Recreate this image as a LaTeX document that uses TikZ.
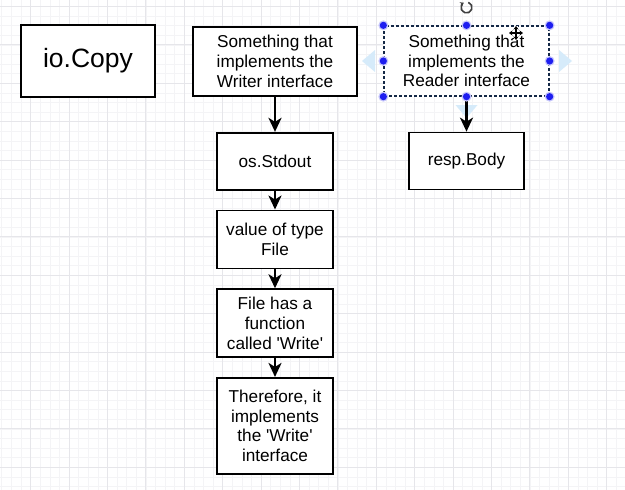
\documentclass[tikz,border=0pt]{standalone}
\usepackage{fontspec}
\setmainfont{Liberation Sans}
\usetikzlibrary{positioning,arrows.meta}
\definecolor{gridminor}{RGB}{244,244,246}
\definecolor{gridmajor}{RGB}{230,230,234}
\definecolor{handleblue}{RGB}{30,30,240}
\definecolor{hintblue}{RGB}{214,235,250}
\definecolor{selline}{RGB}{20,40,70}
\newcommand{\sq}{\textquotesingle}

\begin{document}
\begin{tikzpicture}[x=1pt, y=1pt, node distance=19pt,
  box/.style={draw, line width=1.7pt, fill=white, align=center, inner sep=0pt,
    font=\fontsize{17.2}{19.8}\selectfont},
  link/.style={-{Stealth[length=14pt,width=13pt,inset=4pt]}, line width=2.3pt}]
\useasboundingbox (0,0) rectangle (625,-490);
\fill[white] (0,0) rectangle (625,-490);

% Grid
\foreach \i in {0,...,64} \draw[gridminor, line width=0.8pt] ({1.9+9.6*\i},0) -- ++(0,-490);
\foreach \i in {0,...,51} \draw[gridminor, line width=0.8pt] (0,{-6.5-9.6*\i}) -- ++(625,0);
\foreach \i in {0,...,15} \draw[gridmajor, line width=1pt] ({30.7+38.4*\i},0) -- ++(0,-490);
\foreach \i in {0,...,12} \draw[gridmajor, line width=1pt] (0,{-6.5-38.4*\i}) -- ++(625,0);

% io.Copy
\node[box, minimum width=134pt, minimum height=72pt, font=\fontsize{26.5}{30}\selectfont] (copy) at (88,-61) {io.Copy};

% Writer side
\node[box, minimum width=164pt, minimum height=69pt] (writer) at (275,-61.5) {Something that\\implements the\\Writer interface};
\node[box, below=35pt of writer, minimum width=116pt, minimum height=57pt] (stdout) {os.Stdout};
\node[box, below=of stdout, minimum width=116pt, minimum height=58pt] (fileval) {value of type\\File};
\node[box, below=of fileval, minimum width=116pt, minimum height=68pt] (hasfunc) {File has a\\function\\called \sq Write\sq};
\node[box, below=of hasfunc, minimum width=116pt, minimum height=96pt] (therefore) {Therefore, it\\implements\\the \sq Write\sq\\interface};

% Reader side (selected)
\node[box, draw=selline, line width=1.3pt, dash pattern=on 3pt off 2pt, minimum width=165pt, minimum height=70pt] (reader) at (466.5,-61) {Something that\\implements the\\Reader interface};
\node[box, below=35pt of reader, minimum width=115pt, minimum height=57pt] (body) {resp.Body};

% Selection hints
\fill[hintblue] (362,-61) -- (375,-50) -- (375,-72) -- cycle;
\fill[hintblue] (572,-61) -- (559,-50) -- (559,-72) -- cycle;
\fill[hintblue] (466.5,-118) -- (455.5,-105) -- (477.5,-105) -- cycle;

% Arrows
\draw[link] (writer) -- (stdout);
\draw[link] (stdout) -- (fileval);
\draw[link] (fileval) -- (hasfunc);
\draw[link] (hasfunc) -- (therefore);
\draw[link] (reader) -- (body);

% Handles
\foreach \a in {north west, north, north east, east, south east, south, south west, west} {
  \fill[handleblue!25] (reader.\a) circle (5pt);
  \fill[handleblue] (reader.\a) circle (3.6pt);
}
\draw[black!75, line width=1.6pt, -{Stealth[length=3.5pt,width=5pt]}] (466.5,-7.5) ++(70:5.5pt) arc (70:-240:5.5pt);

% Cursor
\draw[white, line width=3.5pt] (509,-33) -- (523,-33) (516,-26) -- (516,-40);
\draw[black, line width=1.3pt, {Stealth[length=3.5pt,width=5pt]}-{Stealth[length=3.5pt,width=5pt]}] (509,-33) -- (523,-33);
\draw[black, line width=1.3pt, {Stealth[length=3.5pt,width=5pt]}-{Stealth[length=3.5pt,width=5pt]}] (516,-26) -- (516,-40);
\end{tikzpicture}
\end{document}
